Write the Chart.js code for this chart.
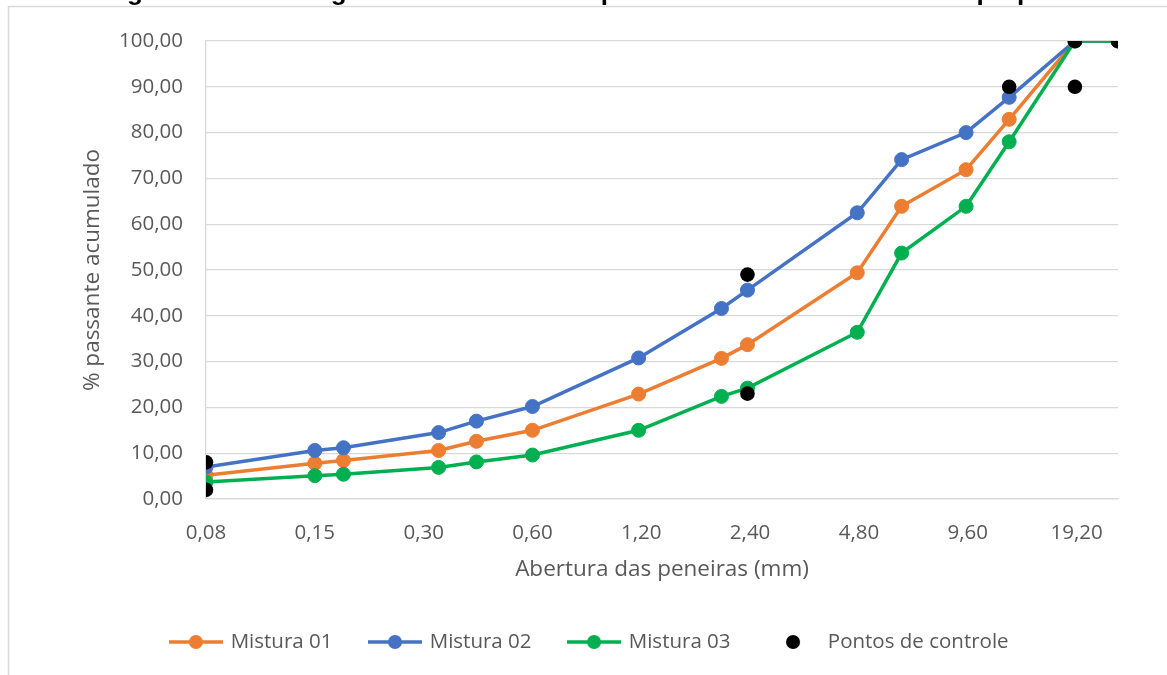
<!DOCTYPE html>
<html>
<head>
<meta charset="utf-8">
<script src="https://cdn.jsdelivr.net/npm/chart.js@4.4.1/dist/chart.umd.min.js"></script>
<style>
  html, body { margin: 0; padding: 0; background: #ffffff; }
  #wrap { width: 1167px; height: 675px; position: relative; }
</style>
</head>
<body>
<div id="wrap"><canvas id="chart" width="1167" height="675"></canvas></div>
<script>
// Sieve openings (mm) and cumulative passing (%) for each blend
const sieveSizes = [0.075, 0.15, 0.18, 0.33, 0.42, 0.6, 1.18, 2.0, 2.36, 4.75, 6.3, 9.5, 12.5, 19, 25];
const mistura01 = [5.2, 7.8, 8.4, 10.6, 12.6, 15.0, 22.9, 30.7, 33.7, 49.4, 63.9, 71.9, 82.9, 100, 100];
const mistura02 = [7.0, 10.6, 11.2, 14.5, 17.0, 20.2, 30.8, 41.6, 45.6, 62.5, 74.1, 80.0, 87.7, 100, 100];
const mistura03 = [3.7, 5.1, 5.4, 6.9, 8.1, 9.6, 15.0, 22.4, 24.2, 36.4, 53.7, 63.9, 78.0, 100, 100];

// Superpave control points (19 mm nominal size)
const controlSizes = [0.075, 0.075, 2.36, 2.36, 12.5, 19, 19, 25];
const controlValues = [2, 8, 23, 49, 90, 90, 100, 100];

// Log-2 tick positions on the sieve axis and their labels
const xTickValues = [0.075, 0.15, 0.3, 0.6, 1.2, 2.4, 4.8, 9.6, 19.2];
const xTickLabels = ['0,08', '0,15', '0,30', '0,60', '1,20', '2,40', '4,80', '9,60', '19,20'];

const seriesNames = ['Mistura 01', 'Mistura 02', 'Mistura 03', 'Pontos de controle'];
const seriesColors = ['#ED7D31', '#4472C4', '#00B050', '#000000'];

const FONT = "'Open Sans', 'Liberation Sans', sans-serif";
const TEXT_GREY = '#595959';
const GRID_GREY = '#d9d9d9';
const PAD_LEFT = 62;
const PAD_RIGHT = 49;

function toPoints(xs, ys) {
  return xs.map((x, i) => ({ x: x, y: ys[i] }));
}

// Legend swatch: a short line with a marker, or a marker alone
function legendSwatch(color, withLine) {
  const c = document.createElement('canvas');
  c.width = 54; c.height = 16;
  const g = c.getContext('2d');
  if (withLine) {
    g.strokeStyle = color; g.lineWidth = 3.5;
    g.beginPath(); g.moveTo(0, 8); g.lineTo(54, 8); g.stroke();
  }
  g.fillStyle = color;
  g.beginPath(); g.arc(27, 8, 7, 0, Math.PI * 2); g.fill();
  return c;
}

function lineSeries(i, values, order) {
  return {
    label: seriesNames[i],
    data: toPoints(sieveSizes, values),
    borderColor: seriesColors[i],
    backgroundColor: seriesColors[i],
    borderWidth: 3.5,
    pointRadius: 7,
    pointHoverRadius: 7,
    pointBorderWidth: 1,
    pointBackgroundColor: seriesColors[i],
    pointBorderColor: seriesColors[i],
    tension: 0,
    order: order
  };
}

// Light frame around the figure
const framePlugin = {
  id: 'frame',
  beforeDraw(chart) {
    const ctx = chart.ctx;
    ctx.save();
    ctx.strokeStyle = GRID_GREY;
    ctx.lineWidth = 1.5;
    ctx.strokeRect(8.5, 6.5, 1400, 900);
    ctx.restore();
  }
};

new Chart(document.getElementById('chart'), {
  type: 'line',
  data: {
    datasets: [
      lineSeries(0, mistura01, 3),
      lineSeries(1, mistura02, 2),
      lineSeries(2, mistura03, 1),
      {
        label: seriesNames[3],
        data: toPoints(controlSizes, controlValues),
        showLine: false,
        borderColor: seriesColors[3],
        backgroundColor: seriesColors[3],
        pointRadius: 7.3,
        pointHoverRadius: 7.3,
        pointBorderWidth: 0,
        order: 0
      }
    ]
  },
  plugins: [framePlugin],
  options: {
    responsive: false,
    animation: false,
    devicePixelRatio: 1,
    layout: { padding: { left: PAD_LEFT, right: PAD_RIGHT, top: 0, bottom: 12.75 } },
    plugins: {
      tooltip: { enabled: false },
      title: {
        display: true,
        text: 'Figura 10: Curvas granulométricas com pontos de controle VMA 19 Superpave',
        color: '#000000',
        font: { family: "'Liberation Sans', Arial, sans-serif", size: 26, weight: 'bold', lineHeight: 1.2 },
        padding: { top: -23.1, bottom: 32.9 }
      },
      legend: {
        position: 'bottom',
        labels: {
          color: TEXT_GREY,
          font: { family: FONT, size: 20.5 },
          usePointStyle: true,
          pointStyleWidth: 49,
          padding: 38,
          generateLabels(chart) {
            return chart.data.datasets.map((ds, i) => ({
              text: ds.label,
              pointStyle: legendSwatch(seriesColors[i], i < 3),
              fillStyle: seriesColors[i],
              strokeStyle: seriesColors[i],
              lineWidth: 0,
              fontColor: TEXT_GREY,
              hidden: false,
              datasetIndex: i
            }));
          }
        }
      }
    },
    scales: {
      x: {
        type: 'logarithmic',
        min: 0.075,
        max: 25,
        afterBuildTicks(scale) {
          scale.ticks = xTickValues.map(v => ({ value: v }));
        },
        afterFit(scale) { scale.height = 94.75; },
        grid: { display: false, drawTicks: false },
        border: { display: true, color: GRID_GREY, width: 1.3 },
        ticks: {
          autoSkip: false,
          maxRotation: 0,
          padding: 22,
          color: TEXT_GREY,
          font: { family: FONT, size: 20.5 },
          callback: (value, index) => xTickLabels[index]
        },
        title: {
          display: true,
          text: 'Abertura das peneiras (mm)',
          color: TEXT_GREY,
          font: { family: FONT, size: 22.5 },
          padding: { top: 0, bottom: 10.5 }
        }
      },
      y: {
        min: 0,
        max: 100,
        afterFit(scale) { scale.width = 206 - PAD_LEFT; },
        grid: { color: GRID_GREY, lineWidth: 1.3, drawTicks: false },
        border: { display: true, color: GRID_GREY, width: 1.3 },
        ticks: {
          stepSize: 10,
          padding: 23,
          color: TEXT_GREY,
          font: { family: FONT, size: 20.5 },
          callback: v => v.toFixed(2).replace('.', ',')
        },
        title: {
          display: true,
          text: '% passante acumulado',
          color: TEXT_GREY,
          font: { family: FONT, size: 22.5 },
          padding: { top: 93 - PAD_LEFT - 13.5, bottom: 0 }
        }
      }
    }
  }
});
</script>
</body>
</html>
